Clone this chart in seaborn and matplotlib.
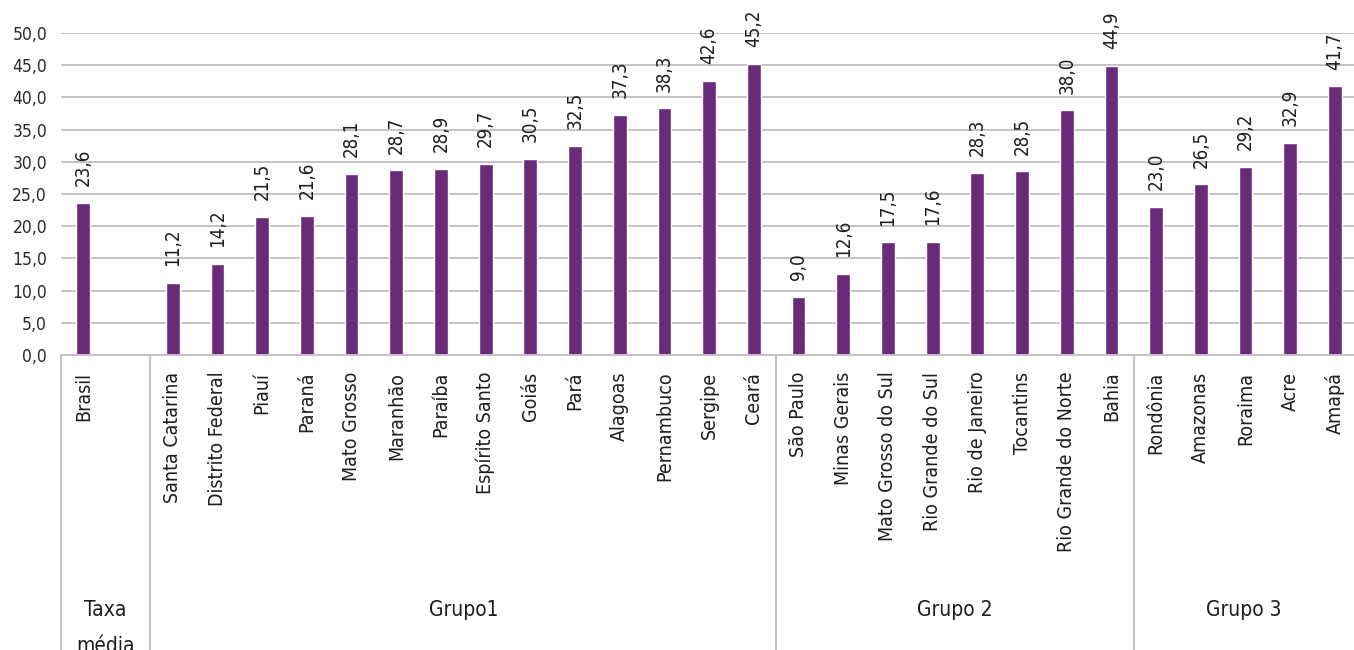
import matplotlib
matplotlib.use('Agg')
import matplotlib.pyplot as plt
import matplotlib.transforms as mtransforms
import pandas as pd
import seaborn as sns

# data
media_names = ["Brasil"]
media_vals = [23.6]
grupo1_names = ["Santa Catarina", "Distrito Federal", "Piauí", "Paraná", "Mato Grosso",
                "Maranhão", "Paraíba", "Espírito Santo", "Goiás", "Pará", "Alagoas",
                "Pernambuco", "Sergipe", "Ceará"]
grupo1_vals = [11.2, 14.2, 21.5, 21.6, 28.1, 28.7, 28.9, 29.7, 30.5, 32.5, 37.3, 38.3, 42.6, 45.2]
grupo2_names = ["São Paulo", "Minas Gerais", "Mato Grosso do Sul", "Rio Grande do Sul",
                "Rio de Janeiro", "Tocantins", "Rio Grande do Norte", "Bahia"]
grupo2_vals = [9.0, 12.6, 17.5, 17.6, 28.3, 28.5, 38.0, 44.9]
grupo3_names = ["Rondônia", "Amazonas", "Roraima", "Acre", "Amapá"]
grupo3_vals = [23.0, 26.5, 29.2, 32.9, 41.7]
group_labels = ["Taxa\nmédia", "Grupo1", "Grupo 2", "Grupo 3"]

BAR_COLOR = "#692A7A"
GRID_COLOR = "#C4C2C4"

sns.set_style("white")
plt.rcParams['font.family'] = ['DejaVu Sans']
plt.rcParams['font.stretch'] = 'condensed'
plt.rcParams['text.color'] = '#1e1e1e'

# empty slot after Brasil inside the "Taxa média" group
order = media_names + [" "] + grupo1_names + grupo2_names + grupo3_names
df = pd.DataFrame({
    "estado": media_names + grupo1_names + grupo2_names + grupo3_names,
    "taxa": media_vals + grupo1_vals + grupo2_vals + grupo3_vals,
})

W, H = 1354, 650
fig = plt.figure(figsize=(W / 100, H / 100), dpi=100)
ax = fig.add_axes([61 / W, (H - 355) / H, (W - 61) / W, (355 - 33) / H])

sns.barplot(data=df, x="estado", y="taxa", order=order, color=BAR_COLOR,
            width=0.31, saturation=1, ax=ax, errorbar=None)

for cont in ax.containers:
    vals = [b.get_height() for b in cont]
    ax.bar_label(cont, labels=[f"{v:.1f}".replace('.', ',') if v == v else "" for v in vals],
                 rotation=90, padding=12, fontsize=13.5, color='#1e1e1e')

ax.set_ylim(0, 50)
ax.set_yticks(range(0, 51, 5))
ax.set_yticklabels([f"{v:.1f}".replace('.', ',') for v in range(0, 51, 5)], fontsize=12.5,
                   color='#2a2a2a')
ax.set_xlim(-0.5, (W - 61) / 44.7 - 0.5)
ax.set_xticks(range(len(order)))
ax.set_xticklabels(order, rotation=90, fontsize=14, va='top', color='#1e1e1e')
ax.tick_params(axis='both', length=0)
ax.tick_params(axis='x', pad=12)
ax.tick_params(axis='y', pad=10)
ax.set_xlabel("")
ax.set_ylabel("")

ax.yaxis.grid(True, color=GRID_COLOR, linewidth=1.4)
ax.set_axisbelow(True)
for s in ["top", "right", "left"]:
    ax.spines[s].set_visible(False)
ax.spines["bottom"].set_color(GRID_COLOR)
ax.spines["bottom"].set_linewidth(1.4)

# group separators and group names below the category labels
trans = mtransforms.blended_transform_factory(ax.transData, ax.transAxes)
sizes = [len(media_names) + 1, len(grupo1_names), len(grupo2_names), len(grupo3_names)]
bottom = -(H - 355) / (355 - 33)
start = -0.5
for size, label in zip(sizes, group_labels):
    ax.plot([start, start], [0, bottom], color=GRID_COLOR, linewidth=1.4,
            transform=trans, clip_on=False)
    end = min(start + size, ax.get_xlim()[1])
    ax.text((start + end) / 2, -(600 - 355) / (355 - 33), label, transform=trans,
            ha='center', va='top', fontsize=15, linespacing=2.0)
    start += size

fig.savefig("out.png", dpi=100)
